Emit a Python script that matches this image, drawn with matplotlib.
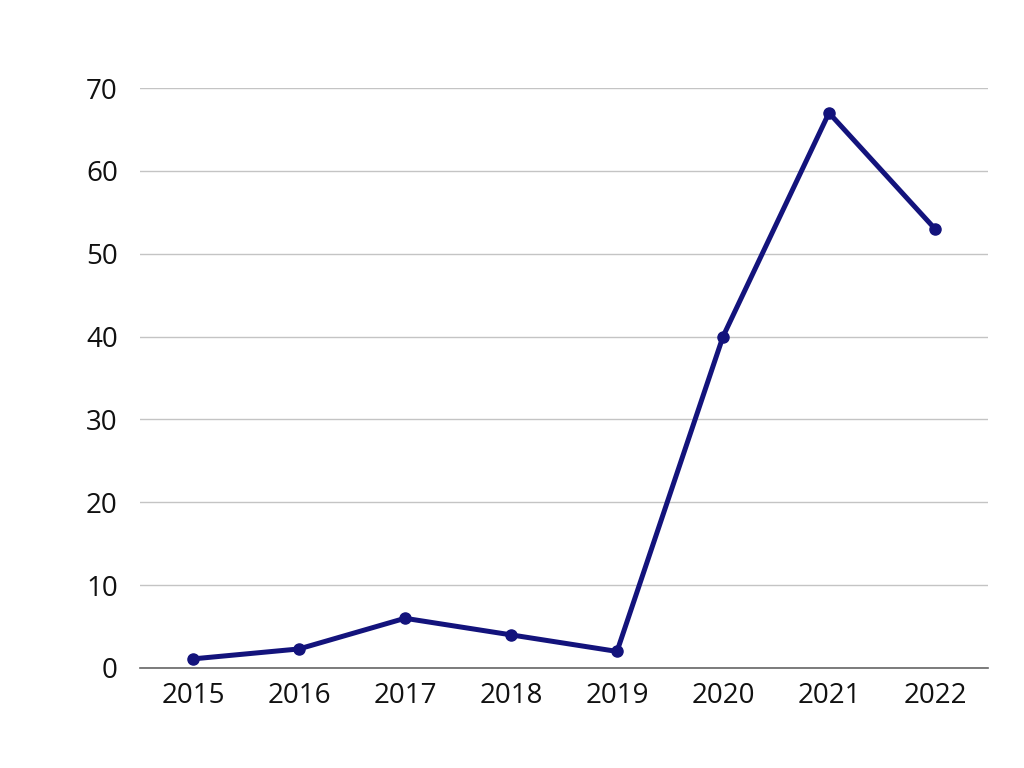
import matplotlib.pyplot as plt

years = ['2015', '2016', '2017', '2018', '2019', '2020', '2021', '2022']
values = [1.1, 2.3, 6, 4, 2, 40, 67, 53]
y_ticks = [0, 10, 20, 30, 40, 50, 60, 70]

plt.rcParams['font.family'] = ['Open Sans', 'DejaVu Sans']

fig = plt.figure(figsize=(10.24, 7.68), dpi=100, facecolor='white')
ax = fig.add_axes([140 / 1024, 1 - 668 / 768, 848 / 1024, 580 / 768])

x = list(range(len(years)))
ax.plot(x, values, color='#13137c', linewidth=3.6, marker='o', markersize=8,
        solid_joinstyle='miter', zorder=3)

ax.set_xlim(-0.5, len(years) - 0.5)
ax.set_ylim(0, 70)
ax.set_xticks(x)
ax.set_xticklabels(years)
ax.set_yticks(y_ticks)

ax.grid(axis='y', color='#c4c4c4', linewidth=1)
ax.set_axisbelow(True)
for side in ['top', 'right', 'left']:
    ax.spines[side].set_visible(False)
ax.spines['bottom'].set_color('#666666')
ax.spines['bottom'].set_linewidth(1.2)

ax.tick_params(axis='both', length=0, labelsize=20, colors='#111111')
ax.tick_params(axis='y', pad=16)
ax.tick_params(axis='x', pad=10)

plt.savefig('out.png', dpi=100)
